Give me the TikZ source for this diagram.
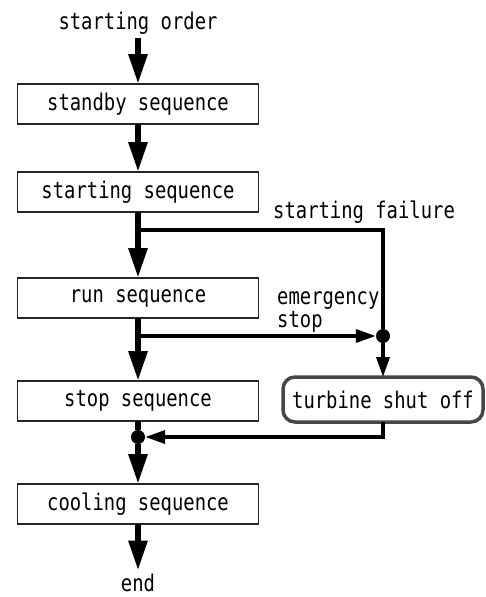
\documentclass[tikz,border=0pt]{standalone}
\usepackage{fontspec}
\setmainfont{DejaVu Sans Mono}[FakeStretch=0.82]
\usetikzlibrary{positioning,arrows.meta}

\newcommand{\seqBlockWidth}{241pt}
\newcommand{\seqBlockHeight}{40pt}
\tikzset{
  sq base/.style={font=\fontsize{23}{22.5}\selectfont},
  sq text/.style={inner sep=3.33pt},
  sq block/.style={draw=black!85, line width=1.5pt, rectangle, outer sep=0pt,
    minimum width=\seqBlockWidth, minimum height=\seqBlockHeight,
    inner sep=0pt, fill=white},
  sq halt/.style={draw=black!72, line width=3.5pt, rectangle, rounded corners=12pt,
    outer sep=0pt, minimum width=200pt, minimum height=45pt, inner sep=0pt, fill=white},
  sq main/.style={line width=6pt},
  sq mainarrow/.style={sq main, -{Triangle[length=30pt,width=18pt]}},
  sq side/.style={line width=3.5pt},
  sq sidearrow/.style={sq side, -{Triangle[length=20pt,width=13pt]}},
  sq dot/.style={circle, fill=black, inner sep=0pt, minimum size=14pt},
}

\begin{document}
\begin{tikzpicture}[
    sq base,
    node distance=48pt,
    seq/.style={sq block},
    txt/.style={sq text}
]
\useasboundingbox (0,0) rectangle (486pt,-597pt);

\node (order)    [txt] at (138pt,-23pt) {starting order};
\node (standby)  [seq, below=61pt of order.center] {standby sequence};
\node (starting) [seq, below=48pt of standby] {starting sequence};
\node (run)      [seq, below=66pt of starting] {run sequence};
\node (stop)     [seq, below=63pt of run] {stop sequence};
\node (cooling)  [seq, below=63pt of stop] {cooling sequence};
\node (end)      [txt, below=46.5pt of cooling] {end};

\node (shutoff) [sq halt] at (383pt,-399.5pt) {turbine shut off};

% branch points on the main line
\coordinate (failfork) at ([yshift=-18pt]starting.south);
\coordinate (emfork)   at ([yshift=-18pt]run.south);
\node (emdot)    [sq dot] at (shutoff.north |- emfork) {};
\node (mergedot) [sq dot] at ([yshift=-16pt]stop.south) {};

\node (faillbl) [txt, inner sep=0pt, anchor=base west] at (273pt,-218pt) {starting failure};
\node (emlbl)   [txt, inner sep=0pt, anchor=base west, align=left] at (277pt,-327pt)
  {emergency\\stop};

\draw [sq mainarrow] (order)    -- (standby);
\draw [sq mainarrow] (standby)  -- (starting);
\draw [sq mainarrow] (starting) -- (run);
\draw [sq mainarrow] (run)      -- (stop);
\draw [sq main]      (stop)     -- (mergedot);
\draw [sq mainarrow] (mergedot) -- (cooling);
\draw [sq mainarrow] (cooling)  -- (end);

\draw [sq side]      (failfork) -| (emdot);
\draw [sq sidearrow] (emfork)   -- (emdot);
\draw [sq sidearrow] (emdot)    -- (shutoff);
\draw [sq sidearrow] (shutoff.south) |- (mergedot);
\end{tikzpicture}
\end{document}
